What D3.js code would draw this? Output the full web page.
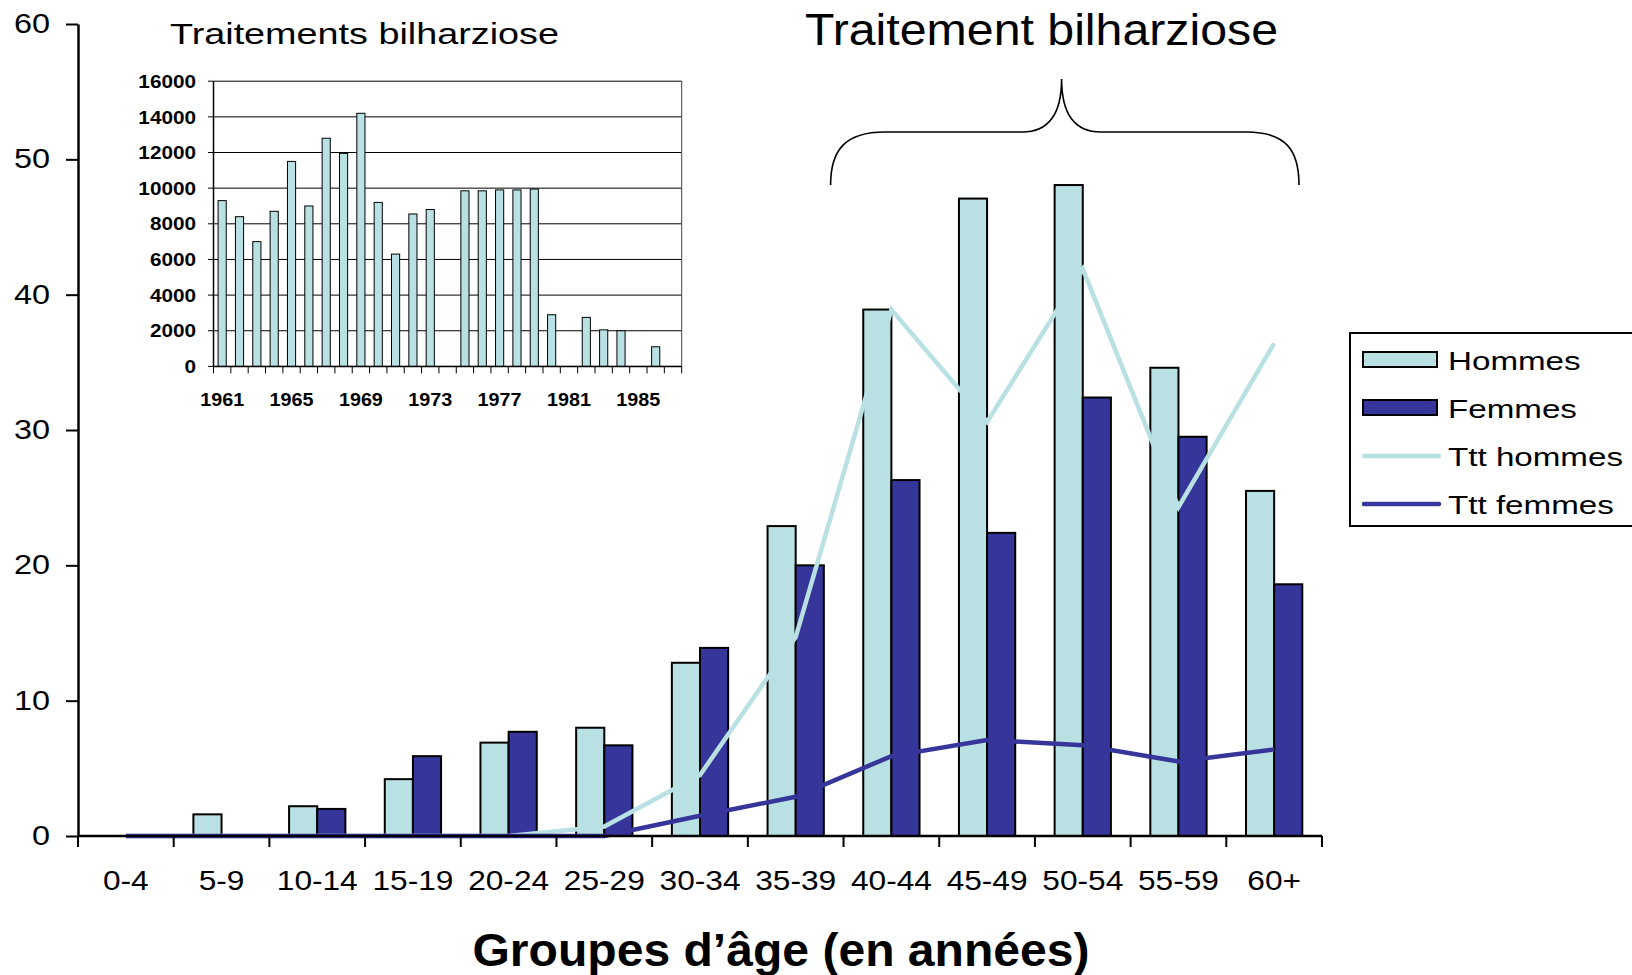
<!DOCTYPE html>
<html>
<head>
<meta charset="utf-8">
<script src="https://cdn.jsdelivr.net/npm/d3@7"></script>
<style>
  body { margin: 0; background: #fff; }
  text { font-family: "Liberation Sans", Arial, sans-serif; fill: #000; }
</style>
</head>
<body>
<div class="chart"></div>
<script>
// données principales
const ageGroups = ['0-4', '5-9', '10-14', '15-19', '20-24', '25-29', '30-34', '35-39', '40-44', '45-49', '50-54', '55-59', '60+'];
const hommes = [0, 1.6, 2.2, 4.2, 6.9, 8.0, 12.8, 22.9, 38.9, 47.1, 48.1, 34.6, 25.5];
const femmes = [0, 0, 2.0, 5.9, 7.7, 6.7, 13.9, 20.0, 26.3, 22.4, 32.4, 29.5, 18.6];
const tttHommes = [0, 0, 0, 0, 0, 0.7, 4.5, 14.7, 38.9, 30.6, 41.9, 24.3, 36.4];
const tttFemmes = [0, 0, 0, 0, 0, 0, 1.5, 2.9, 5.9, 7.1, 6.7, 5.5, 6.4];
const yTicks = [0, 10, 20, 30, 40, 50, 60];

// données de l'encart
const years = d3.range(1961, 1988);
const traitements = [9300, 8400, 7000, 8700, 11500, 9000, 12800, 11950, 14200, 9200, 6300, 8550, 8800, null,
  9850, 9850, 9900, 9900, 9950, 2900, null, 2750, 2050, 2000, null, 1100, null];
const insetYTicks = [0, 2000, 4000, 6000, 8000, 10000, 12000, 14000, 16000];
const insetXLabels = [1961, 1965, 1969, 1973, 1977, 1981, 1985];

const light = '#b9e0e2';
const dark = '#35359a';
const width = 1632, height = 975;

const svg = d3.select('.chart')
  .append('svg')
  .attr('width', width)
  .attr('height', height);

// étire le texte horizontalement comme dans l'original
function stretch(sel, k) {
  sel.each(function () {
    const w = this.getComputedTextLength();
    d3.select(this).attr('textLength', w * k).attr('lengthAdjust', 'spacingAndGlyphs');
  });
}

// ---- graphique principal
const x = d3.scaleBand().domain(ageGroups).range([78, 1322]).padding(0);
const xs = d3.scaleBand().domain(['h', 'f']).range([0, x.bandwidth()]).paddingInner(0).paddingOuter(0.7);
const y = d3.scaleLinear().domain([0, 60]).range([836, 24]);

const rows = ageGroups.map((g, i) => ({ g, h: hommes[i], f: femmes[i] }));

const groups = svg.append('g').selectAll('g')
  .data(rows).join('g')
  .attr('transform', d => `translate(${x(d.g)},0)`);

groups.filter(d => d.h > 0).append('rect')
  .attr('x', xs('h')).attr('width', xs.bandwidth())
  .attr('y', d => y(d.h)).attr('height', d => y(0) - y(d.h))
  .attr('fill', light).attr('stroke', '#000').attr('stroke-width', 2);

groups.filter(d => d.f > 0).append('rect')
  .attr('x', xs('f')).attr('width', xs.bandwidth())
  .attr('y', d => y(d.f)).attr('height', d => y(0) - y(d.f))
  .attr('fill', dark).attr('stroke', '#000').attr('stroke-width', 2);

const line = d3.line()
  .x((d, i) => x(ageGroups[i]) + x.bandwidth() / 2)
  .y(d => y(d));

svg.append('path').datum(tttHommes)
  .attr('d', line).attr('fill', 'none')
  .attr('stroke', light).attr('stroke-width', 4.5);

svg.append('path').datum(tttFemmes)
  .attr('d', line).attr('fill', 'none')
  .attr('stroke', dark).attr('stroke-width', 4.5);

// axe y
const yAxis = svg.append('g')
  .attr('transform', 'translate(78,0)')
  .call(d3.axisLeft(y).tickValues(yTicks).tickSize(12).tickPadding(16).tickSizeOuter(0));
yAxis.select('.domain').attr('stroke-width', 2.5);
yAxis.selectAll('line').attr('stroke-width', 2);
yAxis.selectAll('text').attr('font-size', 27).attr('fill', '#000').call(stretch, 1.2);

// axe x
const xAxis = svg.append('g').attr('transform', 'translate(0,836)');
xAxis.append('line').attr('x1', 78).attr('x2', 1322).attr('stroke', '#000').attr('stroke-width', 2.5);
xAxis.selectAll('.tk')
  .data(d3.range(ageGroups.length + 1)).join('line')
  .attr('x1', i => x.range()[0] + i * x.step()).attr('x2', i => x.range()[0] + i * x.step())
  .attr('y1', 0).attr('y2', 11)
  .attr('stroke', '#000').attr('stroke-width', 2);
const xLab = svg.append('g')
  .attr('transform', 'translate(0,836)')
  .call(d3.axisBottom(x).tickSize(0).tickPadding(0));
xLab.select('.domain').remove();
xLab.selectAll('text').attr('dy', null).attr('y', 54).attr('font-size', 28).attr('fill', '#000').call(stretch, 1.13);

svg.append('text')
  .attr('x', 781).attr('y', 966)
  .attr('text-anchor', 'middle')
  .attr('font-size', 46).attr('font-weight', 'bold')
  .text('Groupes d’âge (en années)')
  .call(stretch, 1.045);

// titre + accolade
svg.append('text')
  .attr('x', 805).attr('y', 45)
  .attr('font-size', 44)
  .text('Traitement bilharziose')
  .call(stretch, 1.097);

svg.append('path')
  .attr('d', 'M830.6,185 C830.6,150 845,132 885,132 L1022,132 C1050,132 1061.6,112 1061.6,79 ' +
    'C1061.6,112 1073,132 1101,132 L1246,132 C1286,132 1299,150 1299,185')
  .attr('fill', 'none').attr('stroke', '#000').attr('stroke-width', 1.6);

// légende
const lg = svg.append('g');
lg.append('rect').attr('x', 1350).attr('y', 333).attr('width', 320).attr('height', 193)
  .attr('fill', '#fff').attr('stroke', '#000').attr('stroke-width', 2);
const legendItems = [
  { label: 'Hommes', type: 'rect', color: light },
  { label: 'Femmes', type: 'rect', color: dark },
  { label: 'Ttt hommes', type: 'line', color: light },
  { label: 'Ttt femmes', type: 'line', color: dark }
];
legendItems.forEach((it, i) => {
  const cy = 360 + i * 48;
  if (it.type === 'rect') {
    lg.append('rect').attr('x', 1363).attr('y', cy - 8).attr('width', 74).attr('height', 15)
      .attr('fill', it.color).attr('stroke', '#000').attr('stroke-width', 2);
  } else {
    lg.append('line').attr('x1', 1364).attr('x2', 1439).attr('y1', cy).attr('y2', cy)
      .attr('stroke', it.color).attr('stroke-width', 4.5).attr('stroke-linecap', 'round');
  }
  lg.append('text').attr('x', 1448).attr('y', cy + 10)
    .attr('font-size', 25.5).text(it.label).call(stretch, 1.3);
});

// ---- encart
const ix = d3.scaleBand().domain(years).range([213.5, 681.7]).paddingInner(0.53).paddingOuter(0.265);
const iy = d3.scaleLinear().domain([0, 16000]).range([366.4, 81.2]);
const inset = svg.append('g');

inset.selectAll('.grid')
  .data(insetYTicks).join('line')
  .attr('x1', 208).attr('x2', 681.7)
  .attr('y1', d => iy(d)).attr('y2', d => iy(d))
  .attr('stroke', '#000').attr('stroke-width', 1);
inset.append('line').attr('x1', 681.7).attr('x2', 681.7).attr('y1', iy(16000)).attr('y2', iy(0))
  .attr('stroke', '#444').attr('stroke-width', 1);
inset.append('line').attr('x1', 213.5).attr('x2', 213.5).attr('y1', iy(16000)).attr('y2', iy(0))
  .attr('stroke', '#000').attr('stroke-width', 1.5);

inset.selectAll('.bar')
  .data(years.map((yr, i) => ({ yr, v: traitements[i] })).filter(d => d.v !== null))
  .join('rect')
  .attr('x', d => ix(d.yr)).attr('width', ix.bandwidth())
  .attr('y', d => iy(d.v)).attr('height', d => iy(0) - iy(d.v))
  .attr('fill', light).attr('stroke', '#000').attr('stroke-width', 1);

inset.append('line').attr('x1', 213.5).attr('x2', 681.7).attr('y1', iy(0)).attr('y2', iy(0))
  .attr('stroke', '#000').attr('stroke-width', 1.5);
inset.selectAll('.itk')
  .data(d3.range(years.length + 1)).join('line')
  .attr('x1', i => 213.5 + i * ix.step()).attr('x2', i => 213.5 + i * ix.step())
  .attr('y1', iy(0)).attr('y2', iy(0) + 7)
  .attr('stroke', '#000').attr('stroke-width', 1);

inset.selectAll('.iyl')
  .data(insetYTicks).join('text')
  .attr('x', 196).attr('y', d => iy(d)).attr('dy', '0.36em')
  .attr('text-anchor', 'end').attr('font-size', 18.5).attr('font-weight', 'bold')
  .text(d => d)
  .call(stretch, 1.12);

inset.selectAll('.ixl')
  .data(insetXLabels).join('text')
  .attr('x', d => ix(d) + ix.bandwidth() / 2).attr('y', 406)
  .attr('text-anchor', 'middle').attr('font-size', 19).attr('font-weight', 'bold')
  .text(d => d)
  .call(stretch, 1.04);

svg.append('text')
  .attr('x', 170).attr('y', 44)
  .attr('font-size', 29.5)
  .text('Traitements bilharziose')
  .call(stretch, 1.28);
</script>
</body>
</html>
